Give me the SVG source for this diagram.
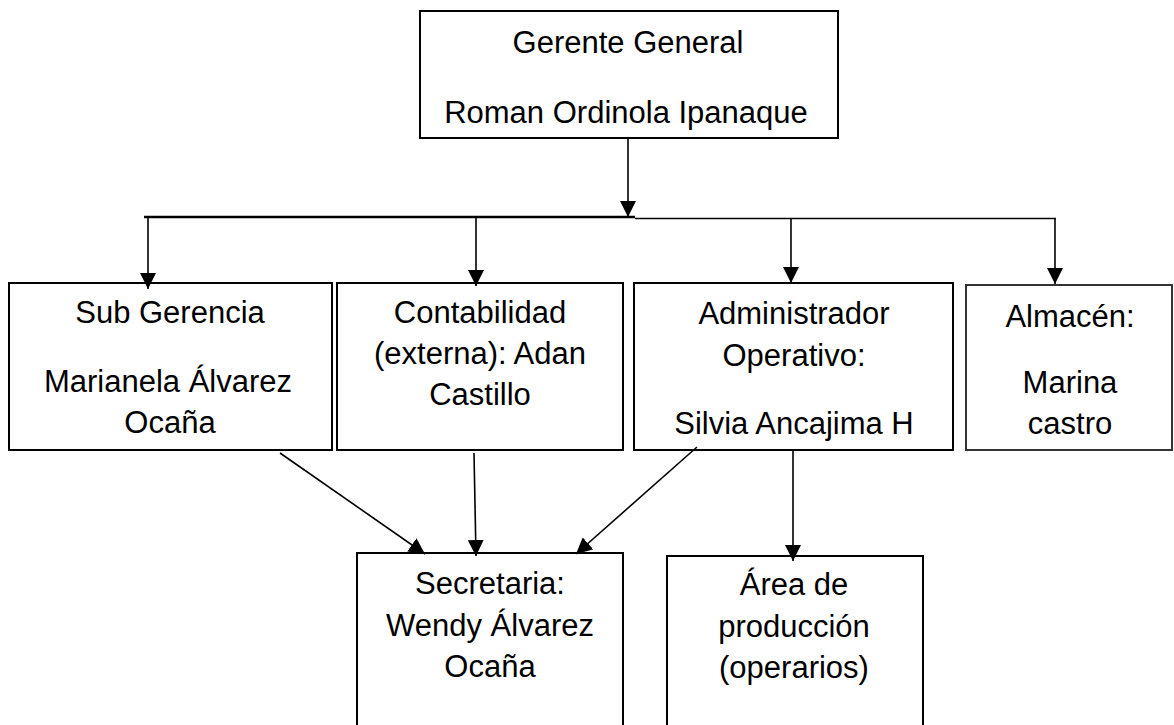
<svg xmlns="http://www.w3.org/2000/svg" width="1174" height="725" viewBox="0 0 1174 725">
<defs>
<style>
.box{fill:#fff;stroke:#000;stroke-width:2}
.grey{stroke:#333;stroke-width:2}
.t{font-family:"Liberation Sans",Arial,sans-serif;font-size:31px;fill:#000;text-anchor:middle}
.c{stroke:#000;fill:none;stroke-width:1.6}
.ch{stroke:#000;fill:none;stroke-width:2.4}
</style>
<marker id="ah" markerUnits="userSpaceOnUse" markerWidth="16" markerHeight="16" viewBox="0 0 16 16" refX="16" refY="8" orient="auto">
<path d="M0,0 L16,8 L0,16 z" fill="#000"/>
</marker>
</defs>
<rect width="1174" height="725" fill="#fff"/>
<g id="gerente">
<rect class="box" x="420" y="11" width="418" height="127"/>
<text class="t" x="628" y="53">Gerente General</text>
<text class="t" x="626" y="123">Roman Ordinola Ipanaque</text>
</g>
<g id="subgerencia">
<rect class="box" x="9" y="283" width="323" height="167"/>
<text class="t" x="170" y="323">Sub Gerencia</text>
<text class="t" x="168" y="392">Marianela Álvarez</text>
<text class="t" x="170" y="433">Ocaña</text>
</g>
<g id="contabilidad">
<rect class="box" x="337" y="283" width="286" height="167"/>
<text class="t" x="480" y="323">Contabilidad</text>
<text class="t" x="480" y="364">(externa): Adan</text>
<text class="t" x="480" y="405">Castillo</text>
</g>
<g id="administrador">
<rect class="box" x="634" y="283" width="319" height="167"/>
<text class="t" x="794" y="324">Administrador</text>
<text class="t" x="794" y="366">Operativo:</text>
<text class="t" x="794" y="434">Silvia Ancajima H</text>
</g>
<g id="almacen">
<rect class="box grey" x="966" y="285" width="206" height="165"/>
<text class="t" x="1070" y="327">Almacén:</text>
<text class="t" x="1070" y="393">Marina</text>
<text class="t" x="1070" y="434">castro</text>
</g>
<g id="secretaria">
<rect class="box" x="357" y="553" width="266" height="180"/>
<text class="t" x="490" y="594">Secretaria:</text>
<text class="t" x="490" y="636">Wendy Álvarez</text>
<text class="t" x="490" y="677">Ocaña</text>
</g>
<g id="produccion">
<rect class="box" x="667" y="556" width="256" height="180"/>
<text class="t" x="794" y="595">Área de</text>
<text class="t" x="794" y="637">producción</text>
<text class="t" x="794" y="678">(operarios)</text>
</g>
<g id="connectors">
<line class="ch" x1="144" y1="217" x2="635" y2="217"/>
<line class="c" x1="635" y1="218.5" x2="1056" y2="218.5"/>
<line class="c" x1="628" y1="138" x2="628" y2="217" marker-end="url(#ah)"/>
<line class="c" x1="148" y1="217" x2="148" y2="289" marker-end="url(#ah)"/>
<line class="c" x1="476" y1="217" x2="476" y2="286" marker-end="url(#ah)"/>
<line class="c" x1="791" y1="219" x2="791" y2="283" marker-end="url(#ah)"/>
<line class="c" x1="1055" y1="219" x2="1055" y2="284" marker-end="url(#ah)"/>
<line class="c" x1="280" y1="453" x2="425" y2="554" marker-end="url(#ah)"/>
<line class="c" x1="474" y1="453" x2="476" y2="556" marker-end="url(#ah)"/>
<line class="c" x1="697" y1="447" x2="576" y2="554" marker-end="url(#ah)"/>
<line class="c" x1="793" y1="450" x2="793" y2="561" marker-end="url(#ah)"/>
</g>
</svg>
